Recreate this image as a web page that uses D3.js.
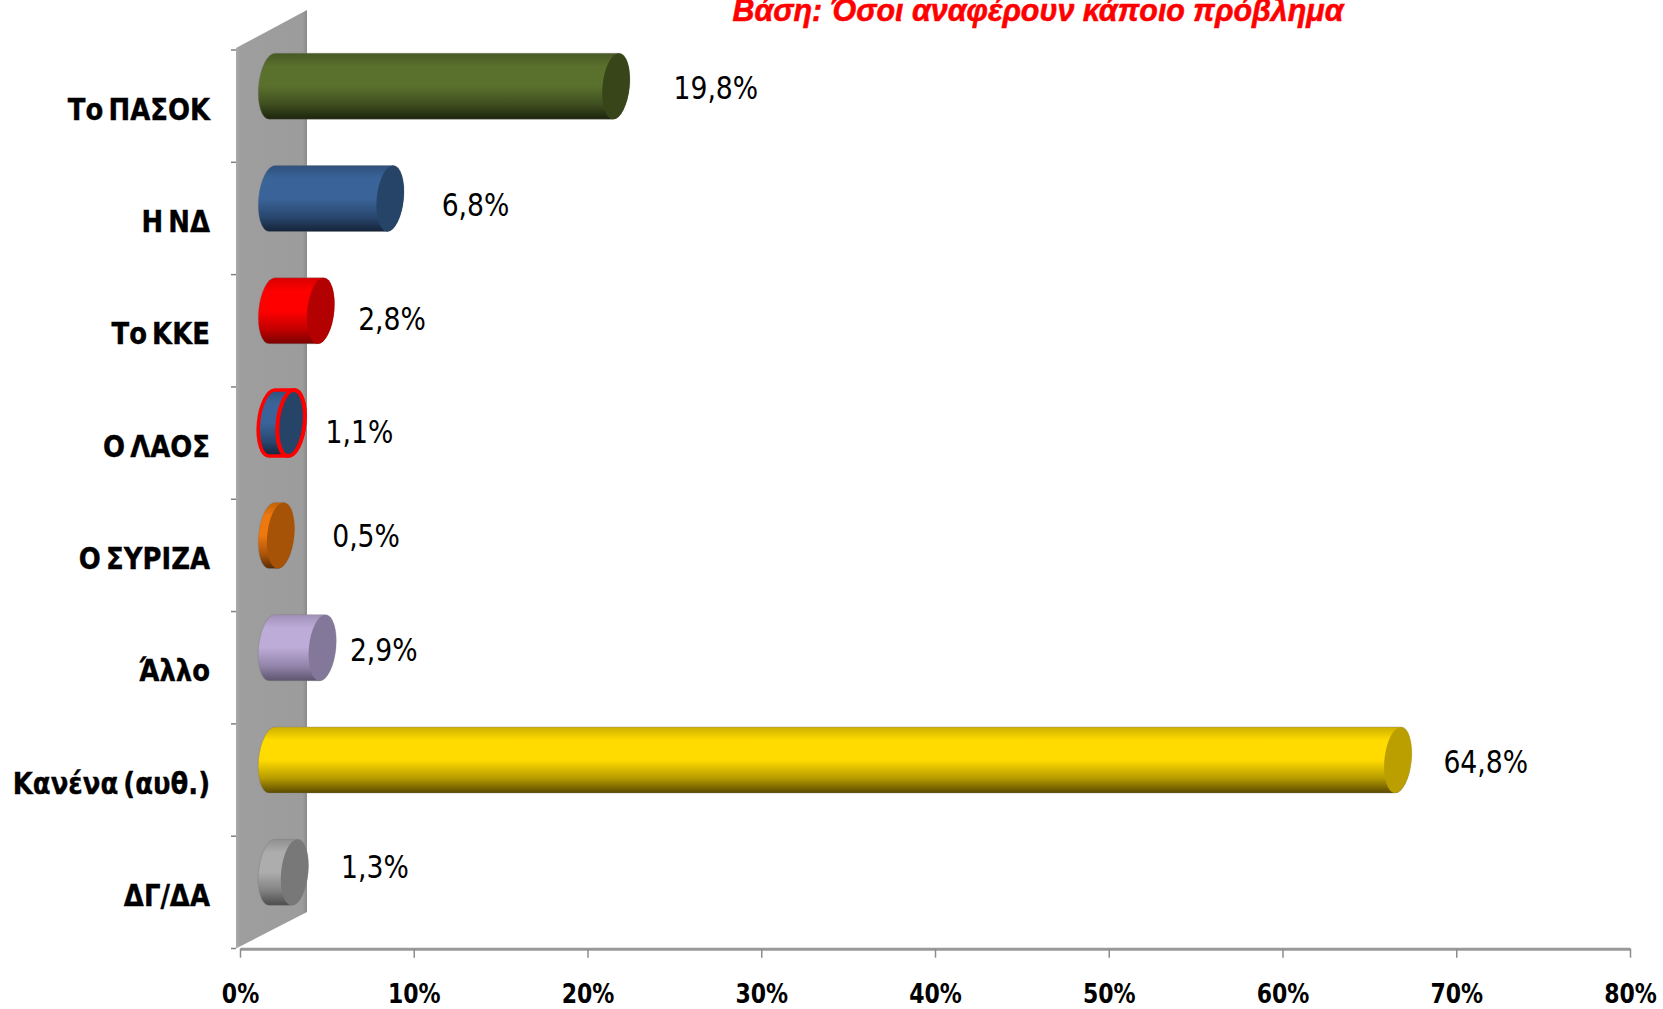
<!DOCTYPE html>
<html><head><meta charset="utf-8">
<script src="https://cdn.jsdelivr.net/npm/d3@7"></script>
<style>html,body{margin:0;padding:0;background:#fff;overflow:hidden}svg{display:block}</style>
</head><body><svg id="c" width="1663" height="1009"></svg>
<script>
const categories = ["Το ΠΑΣΟΚ","Η ΝΔ","Το ΚΚΕ","Ο ΛΑΟΣ","Ο ΣΥΡΙΖΑ","Άλλο","Κανένα (αυθ.)","ΔΓ/ΔΑ"];
const values = [19.8,6.8,2.8,1.1,0.5,2.9,64.8,1.3];
const valueLabels = ["19,8%","6,8%","2,8%","1,1%","0,5%","2,9%","64,8%","1,3%"];
const xTicks = [0,10,20,30,40,50,60,70,80];
const bodyColors = ["#5a702d","#3a6499","#ff0000","#3a6499","#ee770e","#bdabd8","#ffdb00","#adadad"];
const bodyDark = ["#1c240e","#14233a","#7a0000","#14233a","#5a2c04","#5e5570","#5a4a00","#4c4c4c"];
const capColors = ["#374519","#264468","#b30000","#264468","#a65308","#84789a","#bb9e00","#787878"];
const outlineColors = [null,null,null,"#ff0000",null,null,null,null];
const labelGaps = [44,38,24,21,38,14,32,33];
const labelDrops = [2,7,8,9,1,2,2,-5];

const svg = d3.select("#c");
const x = d3.scaleLinear().domain([0,80]).range([240,1630]);
const y = d3.scaleBand().domain(categories).range([50,948.5]);
const depthX = 32, depthY = -20, rx = 13.5, halfH = 33, skew = -5;
const defs = svg.append("defs");
const squeeze = (sel,f)=>sel.each(function(){
  this.setAttribute("textLength",this.getComputedTextLength()*f);
  this.setAttribute("lengthAdjust","spacingAndGlyphs");
});

categories.forEach((c,i)=>{
  const mix = d3.interpolateRgb(bodyColors[i],bodyDark[i]);
  const g = defs.append("linearGradient").attr("id","g"+i).attr("x1",0).attr("y1",0).attr("x2",0).attr("y2",1);
  [[0,mix(.3)],[.2,bodyColors[i]],[.5,bodyColors[i]],[.78,mix(.45)],[1,bodyDark[i]]].forEach(s=>
    g.append("stop").attr("offset",s[0]).attr("stop-color",s[1]));
});
const wg = defs.append("linearGradient").attr("id","wall");
[[0,"#aaaaaa"],[.06,"#9e9e9e"],[.94,"#9c9c9c"],[1,"#8a8a8a"]].forEach(s=>wg.append("stop").attr("offset",s[0]).attr("stop-color",s[1]));
defs.append("filter").attr("id","soft").append("feGaussianBlur").attr("stdDeviation",.5);

// back wall
const wallLeft = x(0)-4, wallRight = x(0)+67;
svg.append("path").attr("fill","url(#wall)").attr("filter","url(#soft)")
  .attr("d",d3.line()([[wallLeft,y.range()[0]-2],[wallRight,10],[wallRight,912],[wallLeft,y.range()[1]]])+"Z");

// ticks on the category axis
const yEdges = d3.range(categories.length+1).map(i=>y.range()[0]+i*y.step());
svg.append("g").selectAll("line").data(yEdges).join("line")
  .attr("x1",wallLeft-5).attr("x2",wallLeft).attr("y1",d=>d).attr("y2",d=>d)
  .attr("stroke","#808080").attr("stroke-width",1.5);

const xAxis = d3.axisBottom(x).tickValues(xTicks).tickSize(9).tickSizeOuter(0).tickFormat(d=>d+"%");
const xg = svg.append("g").attr("transform","translate(0,948.7)").call(xAxis);
xg.select(".domain").attr("stroke","#999").attr("stroke-width",3);
xg.selectAll(".tick line").attr("stroke","#8c8c8c").attr("stroke-width",1.5);
xg.selectAll(".tick text").attr("fill","#000").attr("font-family","'DejaVu Sans Condensed','DejaVu Sans'")
  .attr("font-weight","bold").attr("font-size",26).attr("dy",0).attr("y",54.3).call(squeeze,.94);

// cylinders
const cy = d => y(d)+y.bandwidth()/2+depthY;
const bars = svg.append("g").selectAll("g").data(categories).join("g")
  .attr("transform",d=>`translate(${depthX},${cy(d)}) skewX(${skew})`);
bars.append("path")
  .attr("d",(d,i)=>{const a=x(0),b=x(values[i]);
    return `M${a},${-halfH}A${rx},${halfH} 0 0 0 ${a},${halfH}L${b},${halfH}A${rx},${halfH} 0 0 0 ${b},${-halfH}Z`;})
  .attr("fill",(d,i)=>`url(#g${i})`)
  .attr("stroke",(d,i)=>outlineColors[i]||"rgba(120,120,120,.35)")
  .attr("stroke-width",(d,i)=>outlineColors[i]?3.5:1);
bars.append("ellipse")
  .attr("cx",(d,i)=>x(values[i])).attr("cy",0).attr("rx",rx).attr("ry",halfH)
  .attr("fill",(d,i)=>capColors[i])
  .attr("stroke",(d,i)=>outlineColors[i]||"none")
  .attr("stroke-width",(d,i)=>outlineColors[i]?4:0);

// value labels
svg.append("g").selectAll("text").data(categories).join("text")
  .attr("x",(d,i)=>x(values[i])+depthX+rx+labelGaps[i])
  .attr("y",(d,i)=>cy(d)+labelDrops[i]+11)
  .attr("font-family","'DejaVu Sans Condensed','DejaVu Sans'").attr("font-size",31.5).attr("fill","#000")
  .text((d,i)=>valueLabels[i]).call(squeeze,.94);

// category labels
svg.append("g").selectAll("text").data(categories).join("text")
  .attr("x",210).attr("y",d=>y(d)+y.bandwidth()/2+13.5)
  .attr("text-anchor","end").attr("font-family","'DejaVu Sans Condensed','DejaVu Sans'")
  .attr("font-weight","bold").attr("font-size",30).attr("word-spacing",-4).attr("fill","#000")
  .attr("stroke","#000").attr("stroke-width",.35).text(d=>d).call(squeeze,.96);

// title
svg.append("text").attr("x",1038).attr("y",21).attr("text-anchor","middle")
  .attr("font-family","'Liberation Sans'").attr("font-style","italic").attr("font-weight","bold")
  .attr("font-size",32).attr("fill","#ff0000").attr("stroke","#ff0000").attr("stroke-width",.6)
  .text("Βάση: Όσοι αναφέρουν κάποιο πρόβλημα").call(squeeze,.95);
</script></body></html>
